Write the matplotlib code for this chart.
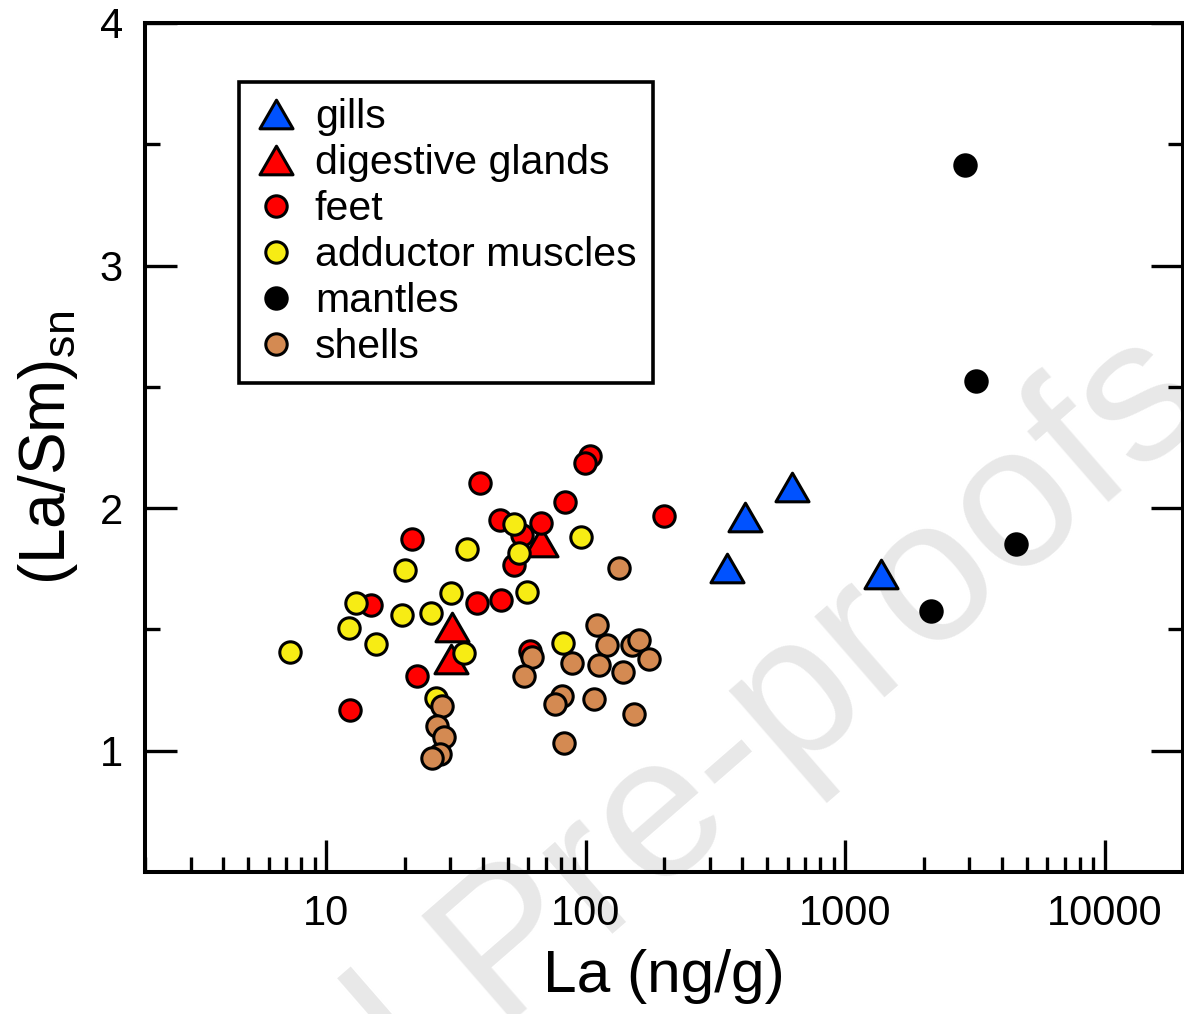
import numpy as np
import matplotlib
matplotlib.use("Agg")
import matplotlib.pyplot as plt
from matplotlib.path import Path
from matplotlib.markers import MarkerStyle
from matplotlib.lines import Line2D
from matplotlib.ticker import FixedLocator, LogLocator, NullFormatter

plt.rcParams['font.family'] = ['Liberation Sans', 'DejaVu Sans']
plt.rcParams['mathtext.fontset'] = 'custom'
plt.rcParams['mathtext.rm'] = 'Liberation Sans'
plt.rcParams['mathtext.it'] = 'Liberation Sans:italic'

# ---------------- data ----------------
gills_x = [351, 412, 625, 1376]
gills_y = [1.752, 1.963, 2.087, 1.727]

glands_x = [30.6, 30.3, 67.4]
glands_y = [1.508, 1.380, 1.860]

feet_x = [39.2, 46.8, 67.4, 56.9, 53.0, 21.3, 14.9, 38.2, 47.2, 22.4, 12.3,
          83.4, 104, 99.5, 200.7, 61.1]
feet_y = [2.103, 1.950, 1.938, 1.888, 1.764, 1.872, 1.599, 1.607, 1.620, 1.310,
          1.169, 2.025, 2.215, 2.186, 1.967, 1.413]

adductor_x = [34.9, 20.0, 30.3, 13.05, 19.6, 25.4, 12.2, 15.6, 7.27, 34.0, 26.5,
              53.0, 55.4, 96.1, 59.5, 81.9]
adductor_y = [1.831, 1.744, 1.649, 1.607, 1.558, 1.566, 1.504, 1.438, 1.405, 1.401,
              1.219, 1.934, 1.814, 1.880, 1.653, 1.446]

mantles_x = [2900, 3198, 4560, 2145]
mantles_y = [3.413, 2.525, 1.851, 1.574]

shells_x = [28.0, 26.8, 28.5, 27.5, 25.6, 62.2, 57.9, 134.6, 110.7, 121.0, 151.1,
            160.8, 175.7, 88.7, 112.7, 139.5, 81.2, 76.3, 107.8, 153.8, 82.6]
shells_y = [1.186, 1.103, 1.058, 0.988, 0.971, 1.388, 1.310, 1.752, 1.517, 1.434,
            1.434, 1.455, 1.380, 1.360, 1.355, 1.326, 1.227, 1.194, 1.215, 1.153,
            1.033]

labels = ['gills', 'digestive glands', 'feet', 'adductor muscles', 'mantles', 'shells']
x_ticks = [10, 100, 1000, 10000]
x_ticklabels = ['10', '100', '1000', '10000']
y_ticks = [1, 2, 3, 4]
y_ticklabels = ['1', '2', '3', '4']
y_minor = [1.5, 2.5, 3.5]

# ---------------- style ----------------
BLUE = '#0052FF'
RED = '#FF0000'
YELLOW = '#F7EC14'
TAN = '#D48A52'

tri_path = Path([(-1, -0.866), (1, -0.866), (0, 0.866), (-1, -0.866)],
                [Path.MOVETO, Path.LINETO, Path.LINETO, Path.CLOSEPOLY])
TRI = MarkerStyle(tri_path, joinstyle='miter')

fig = plt.figure(figsize=(11.84, 10.14), dpi=100)
ax = fig.add_axes([145/1184, 1 - 872/1014, (1183-145)/1184, (872-23)/1014])
ax.patch.set_alpha(0)

# watermark
fig.text(1215/1184, 1 - 410/1014, 'Journal Pre-proofs', fontsize=146, color='#e8e8e8',
         rotation=41, rotation_mode='anchor', ha='right', va='baseline', zorder=-5)

ms_c = 15.4
ms_t = 23.8
ew = 2.2

common = dict(linestyle='none', markeredgecolor='black', markeredgewidth=ew)
ax.plot(glands_x, glands_y, marker=TRI, markersize=ms_t, markerfacecolor=RED, zorder=3, **common)
ax.plot(gills_x, gills_y, marker=TRI, markersize=ms_t, markerfacecolor=BLUE, zorder=3, **common)
ax.plot(feet_x, feet_y, marker='o', markersize=ms_c, markerfacecolor=RED, zorder=4, **common)
ax.plot(adductor_x, adductor_y, marker='o', markersize=ms_c, markerfacecolor=YELLOW, zorder=5, **common)
ax.plot(shells_x, shells_y, marker='o', markersize=ms_c, markerfacecolor=TAN, zorder=6, **common)
ax.plot(mantles_x, mantles_y, marker='o', markersize=ms_c, markerfacecolor='black', zorder=6, **common)

ax.set_xscale('log')
ax.set_xlim(2, 20000)
ax.set_ylim(0.5, 4)

ax.xaxis.set_major_locator(FixedLocator(x_ticks))
ax.set_xticklabels(x_ticklabels)
ax.xaxis.set_minor_locator(LogLocator(base=10, subs=np.arange(2, 10)))
ax.xaxis.set_minor_formatter(NullFormatter())
ax.yaxis.set_major_locator(FixedLocator(y_ticks))
ax.set_yticklabels(y_ticklabels)
ax.yaxis.set_minor_locator(FixedLocator(y_minor))

for s in ax.spines.values():
    s.set_linewidth(2.9)

ax.tick_params(axis='both', which='major', direction='in', length=23, width=2.4,
               labelsize=30, pad=16)
ax.tick_params(axis='both', which='minor', direction='in', length=11, width=2.4)
ax.tick_params(axis='y', which='both', right=True, left=True)
ax.tick_params(axis='x', which='both', top=False, bottom=True)

ax.set_xlabel('La (ng/g)', fontsize=43.5, labelpad=11)
ax.set_ylabel(r'(La/Sm)$_{\mathrm{sn}}$', fontsize=46, labelpad=14)

handles = [
    Line2D([], [], marker=TRI, markersize=ms_t, markerfacecolor=BLUE, **common),
    Line2D([], [], marker=TRI, markersize=ms_t, markerfacecolor=RED, **common),
    Line2D([], [], marker='o', markersize=ms_c, markerfacecolor=RED, **common),
    Line2D([], [], marker='o', markersize=ms_c, markerfacecolor=YELLOW, **common),
    Line2D([], [], marker='o', markersize=ms_c, markerfacecolor='black', **common),
    Line2D([], [], marker='o', markersize=ms_c, markerfacecolor=TAN, **common),
]
leg = ax.legend(handles, labels, loc='upper left',
                bbox_to_anchor=((239-145)/1038, (872-82)/849), borderaxespad=0,
                fontsize=29.5, frameon=True, fancybox=False, framealpha=1,
                edgecolor='black', handlelength=1.0, handleheight=0.7,
                handletextpad=0.45, labelspacing=0.195, borderpad=0.4)
leg.get_frame().set_linewidth(2.6)
leg.set_zorder(10)

fig.savefig('out.png', dpi=100)
